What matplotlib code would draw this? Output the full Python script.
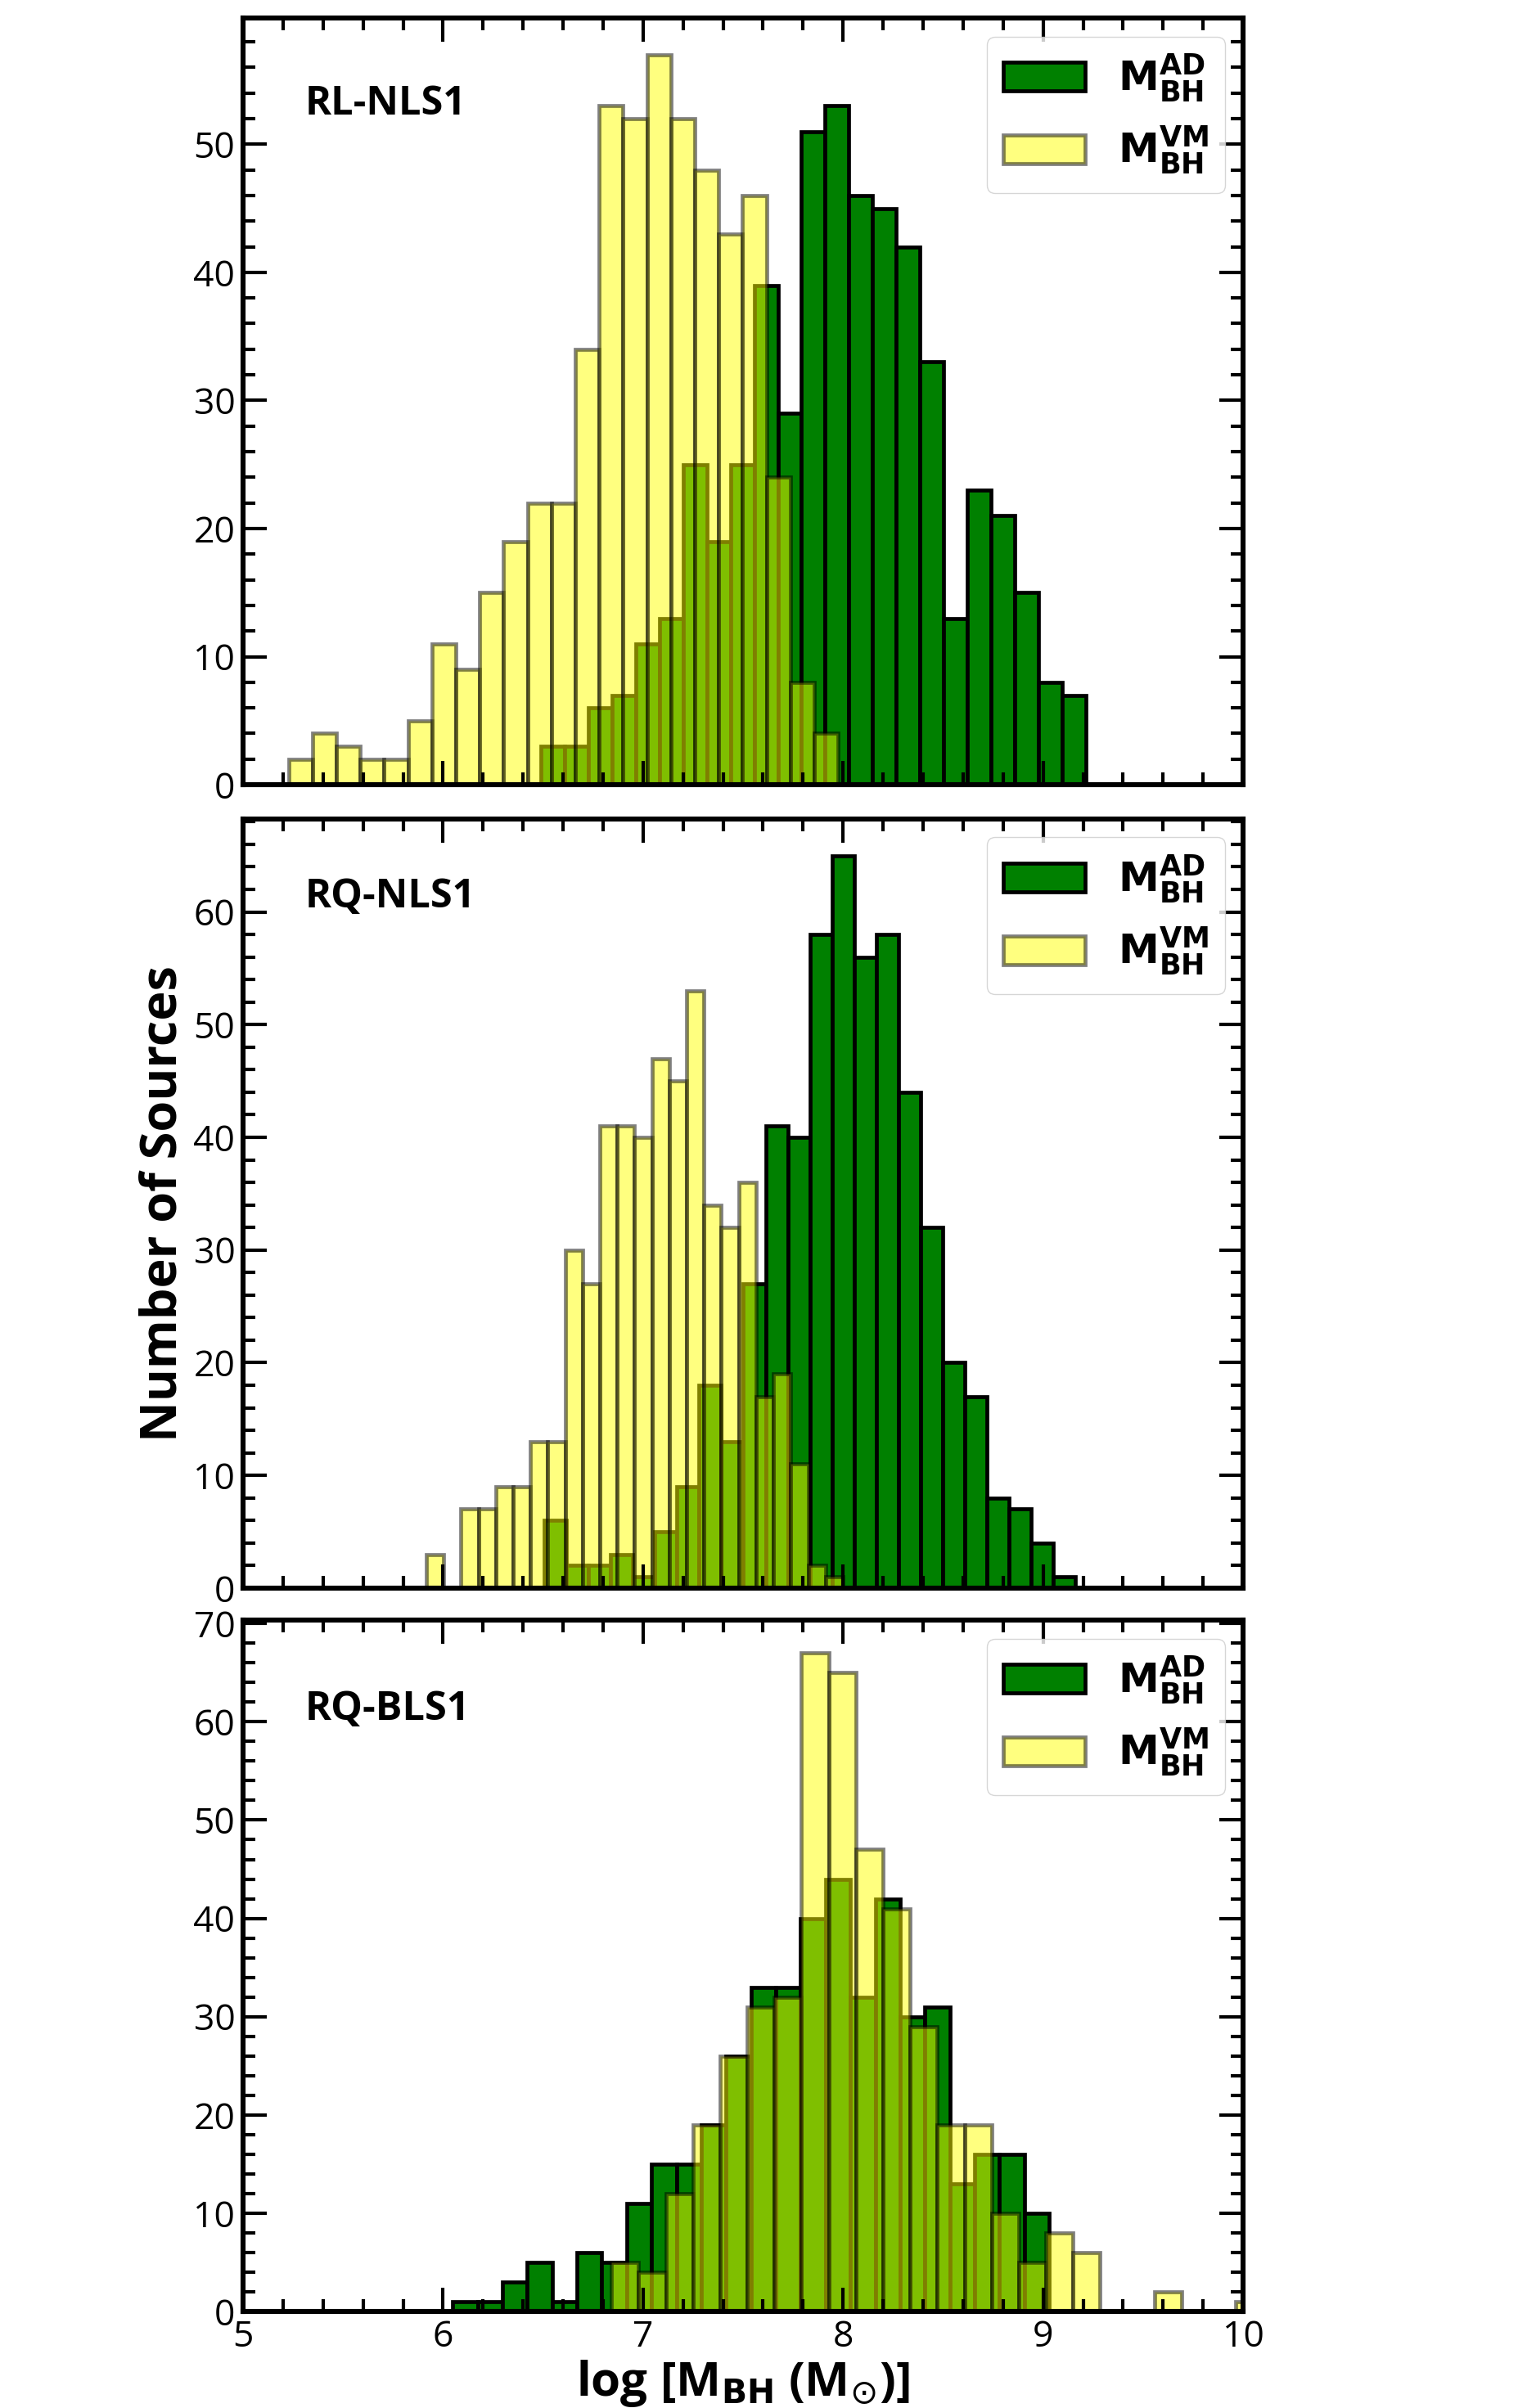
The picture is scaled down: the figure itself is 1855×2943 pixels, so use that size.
import numpy as np
import matplotlib
matplotlib.use("Agg")
import matplotlib.pyplot as plt
from matplotlib.ticker import MultipleLocator
from matplotlib.font_manager import FontProperties

# =====================================
# HISTOGRAM COUNTS
# =====================================

panel_names = ["RL-NLS1", "RQ-NLS1", "RQ-BLS1"]

# accretion disk masses, M_BH^AD
rl_nls1_ad = [3, 3, 6, 7, 11, 13, 25, 19, 25, 39, 29, 51, 53, 46, 45, 42,
              33, 13, 23, 21, 15, 8, 7]
rq_nls1_ad = [6, 2, 2, 3, 1, 5, 9, 18, 13, 27, 41, 40, 58, 65, 56, 58,
              44, 32, 20, 17, 8, 7, 4, 1]
rq_bls1_ad = [1, 1, 3, 5, 1, 6, 5, 11, 15, 15, 19, 26, 33, 33, 40, 44,
              32, 42, 30, 31, 13, 16, 16, 10]

# virial masses, M_BH^VM
rl_nls1_vm = [2, 4, 3, 2, 2, 5, 11, 9, 15, 19, 22, 22, 34, 53, 52, 57,
              52, 48, 43, 46, 24, 8, 4]
rq_nls1_vm = [3, 0, 7, 7, 9, 9, 13, 13, 30, 27, 41, 41, 40, 47, 45, 53,
              34, 32, 36, 17, 19, 11, 2, 1]
rq_bls1_vm = [5, 4, 12, 19, 26, 31, 32, 67, 65, 47, 41, 29, 19, 19, 10, 5,
              8, 6, 0, 0, 2, 0, 0, 1]

# bin ranges (log M_BH) of each histogram
rl_nls1_ad_range = (6.490, 9.213)
rq_nls1_ad_range = (6.505, 9.163)
rq_bls1_ad_range = (6.048, 9.031)
rl_nls1_vm_range = (5.228, 7.975)
rq_nls1_vm_range = (5.916, 7.999)
rq_bls1_vm_range = (6.842, 10.100)

ad_counts = [rl_nls1_ad, rq_nls1_ad, rq_bls1_ad]
vm_counts = [rl_nls1_vm, rq_nls1_vm, rq_bls1_vm]
ad_ranges = [rl_nls1_ad_range, rq_nls1_ad_range, rq_bls1_ad_range]
vm_ranges = [rl_nls1_vm_range, rq_nls1_vm_range, rq_bls1_vm_range]

# =====================================
# STYLE
# =====================================

plt.rcParams["font.family"] = ["Open Sans", "DejaVu Sans"]

fig = plt.figure(figsize=(18.55, 29.43), dpi=100)

# axes boxes [left, bottom, width, height]
boxes = [
    [0.1601, 0.6741, 0.6588, 0.3184],
    [0.1601, 0.3405, 0.6588, 0.3194],
    [0.1601, 0.0401, 0.6588, 0.2871],
]
label_y = [0.887, 0.898, 0.870]

legend_font = FontProperties(family="DejaVu Sans", weight="bold", size=36)

axes = []
for i in range(3):
    ax = fig.add_axes(boxes[i])
    axes.append(ax)

    lo, hi = ad_ranges[i]
    edges = np.linspace(lo, hi, len(ad_counts[i]) + 1)
    ax.hist(edges[:-1], bins=edges, weights=ad_counts[i],
            color="green", edgecolor="black", linewidth=3.4,
            label=r"$\mathbf{M_{BH}^{AD}}$")

    lo, hi = vm_ranges[i]
    edges = np.linspace(lo, hi, len(vm_counts[i]) + 1)
    ax.hist(edges[:-1], bins=edges, weights=vm_counts[i],
            color="yellow", edgecolor="black", linewidth=3.4, alpha=0.5,
            label=r"$\mathbf{M_{BH}^{VM}}$")

    ax.set_xlim(5, 10)

    ax.xaxis.set_major_locator(MultipleLocator(1))
    ax.xaxis.set_minor_locator(MultipleLocator(0.2))
    ax.yaxis.set_major_locator(MultipleLocator(10))
    ax.yaxis.set_minor_locator(MultipleLocator(2))

    ax.tick_params(which="both", direction="in", top=True, right=True,
                   width=3.0, labelsize=32, pad=7)
    ax.tick_params(which="major", length=21)
    ax.tick_params(which="minor", length=11)
    if i < 2:
        ax.tick_params(labelbottom=False)

    for side in ax.spines.values():
        side.set_linewidth(4.4)

    ax.text(0.062, label_y[i], panel_names[i], transform=ax.transAxes,
            fontsize=35, fontweight="bold", va="center", ha="left")

    ax.legend(loc="upper right", prop=legend_font, borderaxespad=0.45)

axes[2].set_xlabel(r"log [M$_{\mathbf{BH}}$ (M$_{\odot}$)]", fontsize=42,
                   fontweight="bold", labelpad=2)

fig.text(0.108, 0.500, "Number of Sources", rotation=90, fontsize=44,
         fontweight="bold", ha="center", va="center")

# Save chart
plt.savefig("out.png", dpi=100)
